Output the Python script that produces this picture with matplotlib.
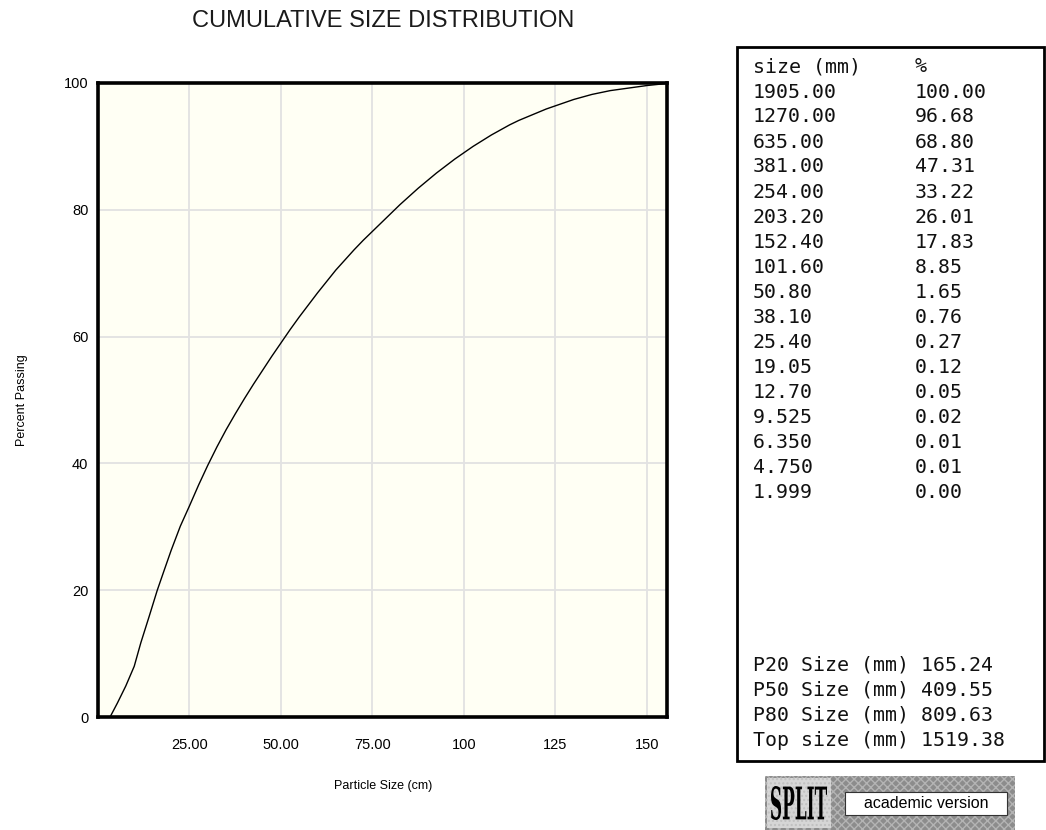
import numpy as np
import matplotlib.pyplot as plt
from matplotlib.patches import Rectangle, PathPatch
from matplotlib.textpath import TextPath
from matplotlib.font_manager import FontProperties
from matplotlib.transforms import Affine2D

# cumulative curve, particle size (cm) vs percent passing
size_cm = [3.3, 5.3, 7.6, 9.9, 11.7, 14.0, 16.2, 18.0, 20.0, 22.5, 25.0,
           27.5, 30.0, 32.5, 35.0, 37.5, 40.0, 42.5, 45.0, 47.5, 50.0,
           52.5, 55.0, 57.5, 60.0, 62.5, 65.0, 67.5, 70.0, 72.5, 75.0,
           77.5, 80.0, 82.5, 85.0, 87.5, 90.0, 92.5, 95.0, 97.5, 100.0,
           102.5, 105.0, 107.5, 110.0, 112.5, 115.0, 117.5, 120.0, 122.5,
           125.0, 127.5, 130.0, 132.5, 135.0, 137.5, 140.0, 145.0, 150.0, 155.0]
passing = [0.0, 2.2, 4.9, 8.0, 11.7, 15.9, 20.0, 23.0, 26.3, 30.1, 33.3,
           36.6, 39.7, 42.6, 45.3, 47.8, 50.2, 52.5, 54.7, 56.9, 59.0,
           61.1, 63.1, 65.0, 66.9, 68.7, 70.5, 72.1, 73.7, 75.2, 76.6,
           78.0, 79.4, 80.8, 82.1, 83.4, 84.6, 85.8, 86.9, 88.0, 89.0,
           90.0, 90.9, 91.8, 92.6, 93.4, 94.1, 94.7, 95.3, 95.9,
           96.4, 96.9, 97.4, 97.8, 98.2, 98.5, 98.8, 99.2, 99.6, 99.9]

xticks = [25, 50, 75, 100, 125, 150]
xtick_labels = ['25.00', '50.00', '75.00', '100', '125', '150']
yticks = [0, 20, 40, 60, 80, 100]

sieve_mm = ['1905.00', '1270.00', '635.00', '381.00', '254.00', '203.20',
            '152.40', '101.60', '50.80', '38.10', '25.40', '19.05', '12.70',
            '9.525', '6.350', '4.750', '1.999']
sieve_pct = ['100.00', '96.68', '68.80', '47.31', '33.22', '26.01', '17.83',
             '8.85', '1.65', '0.76', '0.27', '0.12', '0.05', '0.02', '0.01',
             '0.01', '0.00']
p_labels = ['P20 Size (mm)', 'P50 Size (mm)', 'P80 Size (mm)', 'Top size (mm)']
p_values = ['165.24', '409.55', '809.63', '1519.38']

W, H = 1046, 830
fig = plt.figure(figsize=(W / 100, H / 100), dpi=100)
fig.patch.set_facecolor('white')

sans = 'Liberation Sans'
mono = 'DejaVu Sans Mono'

# main plot area
ax = fig.add_axes([98 / W, 1 - 717 / H, 569 / W, 634 / H])
ax.set_facecolor('#fffff4')
ax.plot(size_cm, passing, color='black', lw=1.0)
ax.set_xlim(0, 155.5)
ax.set_ylim(0, 100)
ax.set_xticks(xticks)
ax.set_xticklabels(xtick_labels)
ax.set_yticks(yticks)
ax.grid(True, color='#e2e2e2', lw=1.3)
ax.set_axisbelow(True)
ax.tick_params(axis='both', length=0, labelsize=10.5)
ax.tick_params(axis='x', pad=15)
ax.tick_params(axis='y', pad=7)
for lab in ax.get_xticklabels() + ax.get_yticklabels():
    lab.set_fontfamily(sans)
for sp in ax.spines.values():
    sp.set_linewidth(2.6)
    sp.set_color('black')

# overlay in pixel coordinates for the text panel and labels
ov = fig.add_axes([0, 0, 1, 1], zorder=-1)
ov.set_xlim(0, W)
ov.set_ylim(H, 0)
ov.axis('off')

ov.text(383, 21, 'CUMULATIVE SIZE DISTRIBUTION', ha='center', va='center',
        fontsize=17, family=sans, color='#1a1a1a')
ov.text(22, 400, 'Percent Passing', ha='center', va='center', rotation=90,
        fontsize=9, family=sans)
ov.text(383, 786, 'Particle Size (cm)', ha='center', va='center',
        fontsize=9, family=sans)

# sieve table box
fs = 14.3
ov.add_patch(Rectangle((737, 47), 307, 714, fill=False, ec='black', lw=2))
ov.text(753, 67, 'size (mm)', ha='left', va='center', fontsize=fs, family=mono, color='#111111')
ov.text(915, 67, '%', ha='left', va='center', fontsize=fs, family=mono, color='#111111')
for i, (s, p) in enumerate(zip(sieve_mm, sieve_pct)):
    y = 92 + 25 * i
    ov.text(753, y, s, ha='left', va='center', fontsize=fs, family=mono, color='#111111')
    ov.text(915, y, p, ha='left', va='center', fontsize=fs, family=mono, color='#111111')
for i, (lbl, val) in enumerate(zip(p_labels, p_values)):
    y = 665 + 25 * i
    ov.text(753, y, f'{lbl} {val}', ha='left', va='center', fontsize=fs,
            family=mono, color='#111111')

# program badge
ov.add_patch(Rectangle((765, 776), 250, 54, fc='#8c8c8c', ec='#b4b4b4',
                       hatch='xxxx', lw=0))
ov.add_patch(Rectangle((767, 778), 64, 50, fc='#d6d6d6', ec='#c0c0c0',
                       hatch='....', lw=0))
tp = TextPath((0, 0), 'SPLIT', size=10, prop=FontProperties(family='DejaVu Serif', weight='bold'))
bb = tp.get_extents()
sx = 56 / bb.width
sy = 34 / bb.height
tr = Affine2D().translate(-bb.x0, -bb.y0).scale(sx, -sy).translate(771, 820) + ov.transData
ov.add_patch(PathPatch(tp, fc='black', ec='none', transform=tr))
ov.add_patch(Rectangle((845, 792), 162, 23, fc='white', ec='#333333', lw=0.8))
ov.text(926, 803.5, 'academic version', ha='center', va='center',
        fontsize=11.5, family=sans)

fig.savefig('out.png', dpi=100)
